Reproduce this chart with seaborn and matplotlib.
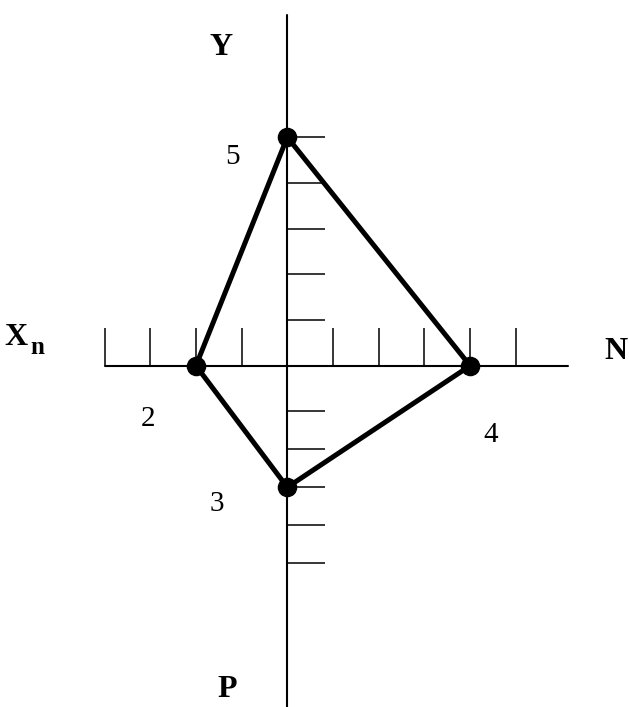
import numpy as np
import pandas as pd
import matplotlib
matplotlib.use("Agg")
import matplotlib.pyplot as plt
import seaborn as sns

sns.set_style("white")
plt.rcParams['font.family'] = ['Liberation Serif', 'DejaVu Serif']
plt.rcParams['text.color'] = 'black'

# quadrilateral vertices (grid units), in drawing order
point_labels = ["2", "5", "4", "3"]
point_x = [-2, 0, 4, 0]
point_y = [0, 5, 0, -2.66]

# tick positions along each axis
x_ticks = [-4, -3, -2, -1, 1, 2, 3, 4, 5]
y_ticks = [5, 4, 3, 2, 1, -0.99, -1.82, -2.66, -3.49, -4.32]

# axis extents
x_axis = [-4, 6.15]
y_axis = [-7.47, 7.67]

TICK_LEN = 0.83

df = pd.DataFrame({"x": point_x, "y": point_y, "label": point_labels})
closed = pd.concat([df, df.iloc[:1]], ignore_index=True)

fig = plt.figure(figsize=(6.29, 7.07), dpi=100)
ax = fig.add_axes([0, 0, 1, 1])

# axes
ax.plot(x_axis, [0, 0], color="black", lw=1.5)
ax.plot([0, 0], y_axis, color="black", lw=1.5)
ax.vlines(x_ticks, 0, TICK_LEN, color="black", lw=1.1)
ax.hlines(y_ticks, 0, TICK_LEN, color="black", lw=1.1)

# shape
sns.lineplot(data=closed, x="x", y="y", sort=False, estimator=None,
             color="black", lw=3.6, ax=ax)
sns.scatterplot(data=df, x="x", y="y", color="black", s=170,
                edgecolor="black", zorder=5, ax=ax)

# vertex numbers
num_pos = {"2": (-3.05, -1.17), "5": (-1.21, 4.57), "4": (4.46, -1.52), "3": (-1.54, -3.03)}
for lab, (tx, ty) in num_pos.items():
    ax.text(tx, ty, lab, fontsize=21, color="black", ha="center", va="center")

# axis names
bold = dict(fontsize=23, fontweight="bold", color="black", ha="center", va="center")
ax.text(-1.45, 6.96, "Y", **bold)
ax.text(7.19, 0.32, "N", **bold)
ax.text(-1.32, -7.08, "P", **bold)
ax.text(-5.93, 0.61, "X", **bold)
ax.text(-5.46, 0.40, "n", fontsize=18, fontweight="bold", color="black",
        ha="center", va="center")

ax.set_xlim(-6.287, 7.477)
ax.set_ylim(-7.468, 8.002)
ax.axis("off")

plt.savefig("out.png", dpi=100)
plt.close()
